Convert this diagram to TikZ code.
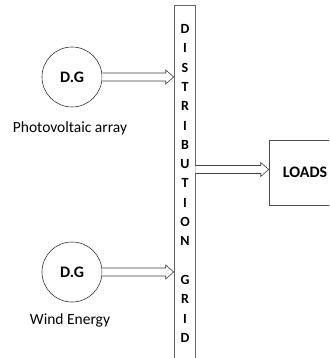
\documentclass[tikz,border=0pt]{standalone}
\usepackage{fontspec}
\setmainfont{Carlito}
\usetikzlibrary{calc}
\usetikzlibrary{positioning}

\tikzset{
    dg/.style={circle,draw=black!80,line width=0.6pt,minimum size=60pt,inner sep=0pt,font=\fontsize{16}{18}\selectfont\bfseries},
    src/.style={font=\fontsize{15.5}{17}\selectfont},
    feed/.style={draw=black!75,line width=0.6pt,fill=white,line join=miter},
    letter/.style={font=\fontsize{14}{16}\selectfont\bfseries,inner sep=0pt}
}
% hollow arrow from #1 to #2
\newcommand{\feedarrow}[2]{
    \draw[feed] ($(#1)+(0,-4)$) -- ($(#2)+(-8,-4)$) -- ($(#2)+(-8,-7)$) -- (#2)
        -- ($(#2)+(-8,7)$) -- ($(#2)+(-8,4)$) -- ($(#1)+(0,4)$);
}

\begin{document}
\begin{tikzpicture}[x=1pt,y=-1pt]
            \clip (0,0) rectangle (329,358);
            \fill[white] (0,0) rectangle (329,358);
            \node[draw=black!60,line width=0.6pt,minimum width=21pt,minimum height=360pt,inner sep=0pt] (grid) at (184.5,185) {};
            \foreach \ch [count=\i] in {D,I,S,T,R,I,B,U,T,I,O,N,,G,R,I,D}
                \node[letter] (l\i) at (185,{29+(\i-1)*19.3}) {\ch};
            \node[draw=black!70,line width=0.6pt,minimum width=72pt,minimum height=65pt] (loads) at (305,172.5) {};
            \node[font=\fontsize{16}{18}\selectfont\bfseries] (loadstext) at (305,172) {LOADS};
            \node[dg] (pv) at (72,77) {D.G};
            \node[src] (pvname) at (70,128) {Photovoltaic array};
            \node[dg] (wind) at (72,272) {D.G};
            \node[src] (windname) at (70,320) {Wind Energy};
            \coordinate (gridin1) at (pv.east -| grid.west);
            \coordinate (gridin2) at (wind.east -| grid.west);
            \coordinate (gridout) at (grid.east |- 0,169.5);
            \coordinate (loadsin) at (loads.west |- 0,169.5);
            \feedarrow{pv.east}{gridin1}
            \feedarrow{wind.east}{gridin2}
            \feedarrow{gridout}{loadsin}
        \end{tikzpicture}
\end{document}
